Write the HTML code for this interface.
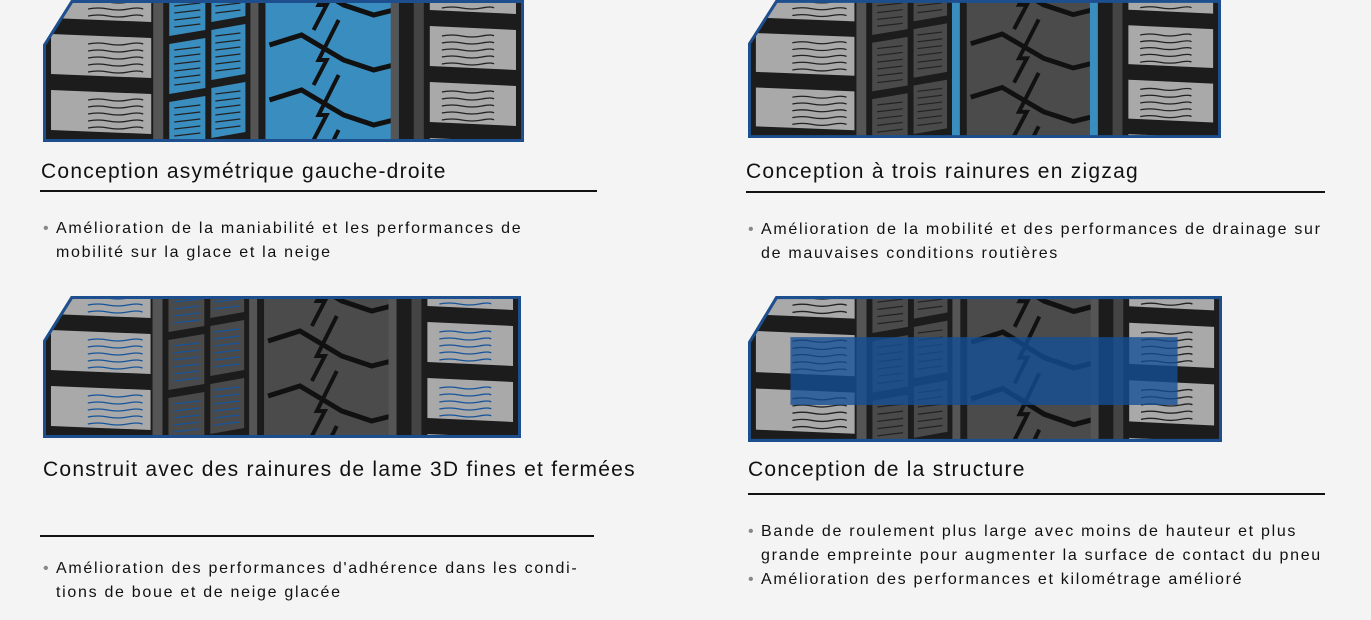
<!DOCTYPE html>
<html><head><meta charset="utf-8">
<style>
body{margin:0;width:1371px;height:620px;background:#f4f4f4;position:relative;overflow:hidden;font-family:"Liberation Sans",sans-serif;color:#111}
.t{position:absolute;font-size:21px;letter-spacing:1.25px;line-height:24px;white-space:nowrap}
.l{position:absolute;height:2px;background:#111}
.b{position:absolute;font-size:16px;letter-spacing:1.7px;line-height:24px;white-space:nowrap}
.b span{color:#888;position:absolute;left:-13px}
.tire{position:absolute}
</style></head><body>
<div class="tire" id="t1" style="left:43px;top:0;width:481px;height:142px"></div>
<div class="tire" id="t2" style="left:748px;top:0;width:473px;height:138px"></div>
<div class="tire" id="t3" style="left:43px;top:296px;width:478px;height:142px"></div>
<div class="tire" id="t4" style="left:748px;top:296px;width:474px;height:146px"></div>

<div class="t" style="left:41px;top:160px">Conception asymétrique gauche-droite</div>
<div class="l" style="left:40px;top:190px;width:557px"></div>
<div class="b" style="left:56px;top:217px"><span>•</span>Amélioration de la maniabilité et les performances de<br>mobilité sur la glace et la neige</div>

<div class="t" style="left:746px;top:160px">Conception à trois rainures en zigzag</div>
<div class="l" style="left:746px;top:191px;width:579px"></div>
<div class="b" style="left:761px;top:218px"><span>•</span>Amélioration de la mobilité et des performances de drainage sur<br>de mauvaises conditions routières</div>

<div class="t" style="left:43px;top:458px">Construit avec des rainures de lame 3D fines et fermées</div>
<div class="l" style="left:40px;top:535px;width:554px"></div>
<div class="b" style="left:56px;top:557px"><span>•</span>Amélioration des performances d'adhérence dans les condi-<br>tions de boue et de neige glacée</div>

<div class="t" style="left:748px;top:458px">Conception de la structure</div>
<div class="l" style="left:748px;top:493px;width:577px"></div>
<div class="b" style="left:761px;top:520px"><span>•</span>Bande de roulement plus large avec moins de hauteur et plus<br>grande empreinte pour augmenter la surface de contact du pneu<br><span>•</span>Amélioration des performances et kilométrage amélioré</div>

<script>
function tire(v){
  var blue='#3a8dbf',nb='#16549a';
  var s='<svg width="100%" height="100%" viewBox="0 0 480 142" preserveAspectRatio="none" xmlns="http://www.w3.org/2000/svg">';
  s+='<defs><clipPath id="c'+v+'"><polygon points="0,45 28,0 480,0 480,142 0,142"/></clipPath></defs>';
  s+='<g clip-path="url(#c'+v+')">';
  s+='<rect width="480" height="142" fill="#1c1c1c"/>';
  var sipe=(v==3)?nb:'#222';
  var midc=(v==1)?blue:'#4a4a4a';
  var cen=(v==1)?blue:'#4b4b4b';
  for(var y=-30;y<150;y+=56){
    s+='<polygon points="8,'+(y+8)+' 108,'+(y+12)+' 108,'+(y+52)+' 8,'+(y+48)+'" fill="#a9a9a9"/>';
    for(var k=0;k<5;k++){var yy=y+18+k*7;s+='<path d="M45 '+yy+' q10 -2 20 0 t20 0 t15 0" stroke="'+sipe+'" stroke-width="1.3" fill="none"/>';}
  }
  s+='<rect x="110" y="0" width="10" height="142" fill="#555"/>';
  for(var y=-20;y<150;y+=58){
    s+='<polygon points="126,'+(y+6)+' 162,'+(y)+' 162,'+(y+50)+' 126,'+(y+56)+'" fill="'+midc+'"/>';
    s+='<polygon points="168,'+(y-8)+' 202,'+(y-14)+' 202,'+(y+36)+' 168,'+(y+42)+'" fill="'+midc+'"/>';
    for(var k=0;k<6;k++){var yy=y+12+k*7;s+='<path d="M131 '+yy+' l26 -3 M172 '+(yy-14)+' l25 -3" stroke="'+sipe+'" stroke-width="1.2"/>';}
  }
  s+='<rect x="207" y="0" width="8" height="142" fill="'+(v==2?blue:'#555')+'"/>';
  s+='<rect x="222" y="0" width="133" height="142" fill="'+cen+'"/>';
  for(var y=-40;y<160;y+=55){
    s+='<path d="M226 '+(y+30)+' L258 '+(y+20)+' L300 '+(y+45)+' L330 '+(y+55)+' L350 '+(y+50)+'" stroke="#111" stroke-width="5" fill="none"/>';
    s+='<path d="M295 '+(y+5)+' L275 '+(y+45)+' L283 '+(y+45)+' L270 '+(y+70)+'" stroke="#111" stroke-width="4" fill="none"/>';
  }
  s+='<rect x="347" y="0" width="8" height="142" fill="'+(v==2?blue:'#555')+'"/>';
  s+='<rect x="370" y="0" width="10" height="142" fill="#444"/>';
  for(var y=-38;y<150;y+=56){
    s+='<polygon points="386,'+(y+8)+' 472,'+(y+12)+' 472,'+(y+52)+' 386,'+(y+48)+'" fill="#a9a9a9"/>';
    for(var k=0;k<5;k++){var yy=y+18+k*7;s+='<path d="M398 '+yy+' q10 -2 20 0 t20 0 t12 0" stroke="'+sipe+'" stroke-width="1.3" fill="none"/>';}
  }
  if(v==4){s+='<rect x="43" y="40" width="392" height="66" fill="#134e96" fill-opacity="0.78"/>';}
  s+='</g><polygon points="1.5,45 29,1.5 478.5,1.5 478.5,140.5 1.5,140.5" fill="none" stroke="#1d4f8f" stroke-width="3"/>';
  s+='</svg>';
  return s;
}
for(var i=1;i<=4;i++)document.getElementById('t'+i).innerHTML=tire(i);
</script>
</body></html>
